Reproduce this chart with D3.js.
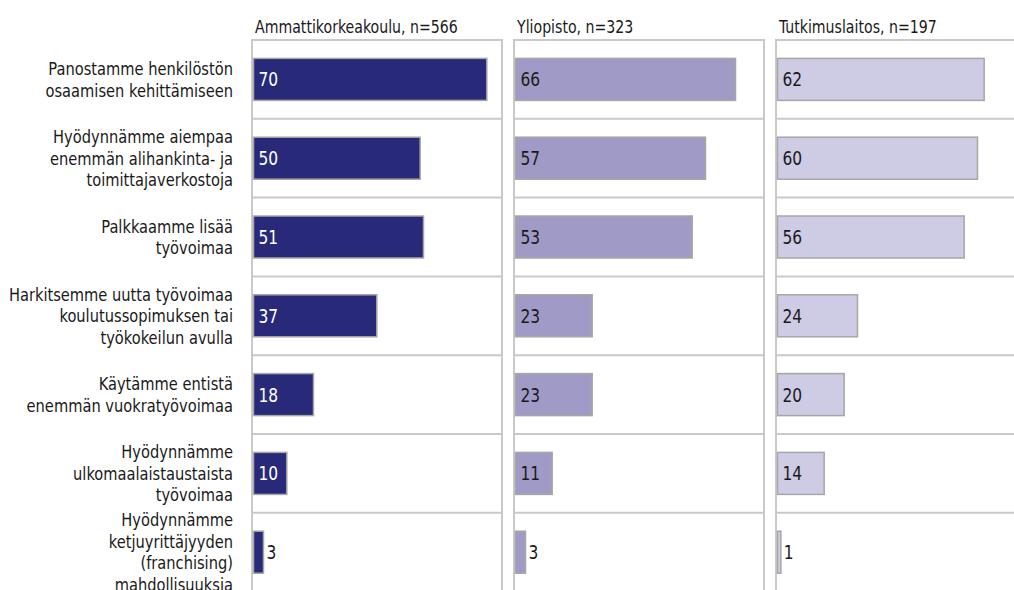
<!DOCTYPE html>
<html>
<head>
<meta charset="utf-8">
<script src="https://cdn.jsdelivr.net/npm/d3@7/dist/d3.min.js"></script>
<style>
  html, body { margin: 0; padding: 0; background: #fff; }
  svg { display: block; }
  text { font-family: "DejaVu Sans Condensed", "Liberation Sans Narrow", sans-serif; fill: #1a1a1a; }
</style>
</head>
<body>
<svg id="chart" width="1014" height="590"></svg>
<script>
// Statements (line breaks mark the wrapped label lines)
const categories = [
  "Panostamme henkilöstön\nosaamisen kehittämiseen",
  "Hyödynnämme aiempaa\nenemmän alihankinta- ja\ntoimittajaverkostoja",
  "Palkkaamme lisää\ntyövoimaa",
  "Harkitsemme uutta työvoimaa\nkoulutussopimuksen tai\ntyökokeilun avulla",
  "Käytämme entistä\nenemmän vuokratyövoimaa",
  "Hyödynnämme\nulkomaalaistaustaista\ntyövoimaa",
  "Hyödynnämme\nketjuyrittäjyyden\n(franchising)\nmahdollisuuksia"
];

// Respondent groups and panel headers
const groups = ["Ammattikorkeakoulu", "Yliopisto", "Tutkimuslaitos"];
const groupLabels = ["Ammattikorkeakoulu, n=566", "Yliopisto, n=323", "Tutkimuslaitos, n=197"];

// Shares (%) per group, in category order
const ammattikorkeakoulu = [70, 50, 51, 37, 18, 10, 3];
const yliopisto = [66, 57, 53, 23, 23, 11, 3];
const tutkimuslaitos = [62, 60, 56, 24, 20, 14, 1];
const seriesValues = [ammattikorkeakoulu, yliopisto, tutkimuslaitos];

const fills = ["#29297a", "#9f9ac6", "#cecce4"];
const valueColors = ["#ffffff", "#1a1a1a", "#1a1a1a"];

const svg = d3.select("#chart");

const topY = 40;
const rowH = 78.8;

const y = d3.scaleBand()
  .domain(categories)
  .range([topY, topY + rowH * categories.length])
  .paddingInner(0)
  .paddingOuter(0);

const panel = d3.scaleBand()
  .domain(groups)
  .range([252, 1026])
  .paddingInner(12 / 262)
  .paddingOuter(0);

const x = d3.scaleLinear().domain([0, 75]).range([0, panel.bandwidth()]);

const gridColor = "#c9c9c9";
const barH = 42;

// condensed lettering: text squeezed horizontally around its anchor point
function narrowText(parent, tx, ty, sx) {
  return parent.append("g")
    .attr("transform", `translate(${tx},${ty}) scale(${sx},1)`)
    .append("text");
}

// Category labels on the left
const lineH = 21.5;
const labels = svg.append("g").attr("class", "cat-labels");
categories.forEach(cat => {
  const lines = cat.split("\n");
  const cy = y(cat) + y.bandwidth() / 2;
  const t = narrowText(labels, 233, cy - (lines.length - 1) * lineH / 2 + 6.5, 0.905)
    .attr("text-anchor", "end")
    .attr("font-size", 18);
  lines.forEach((ln, i) => {
    t.append("tspan").attr("x", 0).attr("dy", i === 0 ? 0 : lineH).text(ln);
  });
});

// One panel per group
groups.forEach((g, gi) => {
  const px = panel(g);
  const w = panel.bandwidth();
  const p = svg.append("g").attr("transform", `translate(${px},0)`);

  narrowText(p, 3, 33, 0.925)
    .attr("font-size", 17)
    .text(groupLabels[gi]);

  // row separators, including the top edge
  categories.forEach(cat => {
    p.append("line")
      .attr("x1", 0).attr("x2", w)
      .attr("y1", y(cat)).attr("y2", y(cat))
      .attr("stroke", gridColor).attr("stroke-width", 2);
  });

  // panel side borders
  [0, w].forEach(bx => {
    p.append("line")
      .attr("x1", bx).attr("x2", bx)
      .attr("y1", topY - 1).attr("y2", 600)
      .attr("stroke", gridColor).attr("stroke-width", 2);
  });

  const vals = seriesValues[gi];
  const rows = p.selectAll("g.row")
    .data(categories.map((c, i) => ({ cat: c, v: vals[i] })))
    .join("g").attr("class", "row");

  rows.append("rect")
    .attr("x", 1.5)
    .attr("y", d => y(d.cat) + y.bandwidth() / 2 - barH / 2)
    .attr("width", d => x(d.v))
    .attr("height", barH)
    .attr("fill", fills[gi])
    .attr("stroke", "#a6a6a6")
    .attr("stroke-width", 1.5);

  rows.each(function (d) {
    const outside = d.v < 5;
    narrowText(d3.select(this), outside ? 1.5 + x(d.v) + 3 : 6.5, y(d.cat) + y.bandwidth() / 2 + 7, 0.86)
      .attr("font-size", 20)
      .style("fill", outside ? "#1a1a1a" : valueColors[gi])
      .text(d.v);
  });
});
</script>
</body>
</html>
